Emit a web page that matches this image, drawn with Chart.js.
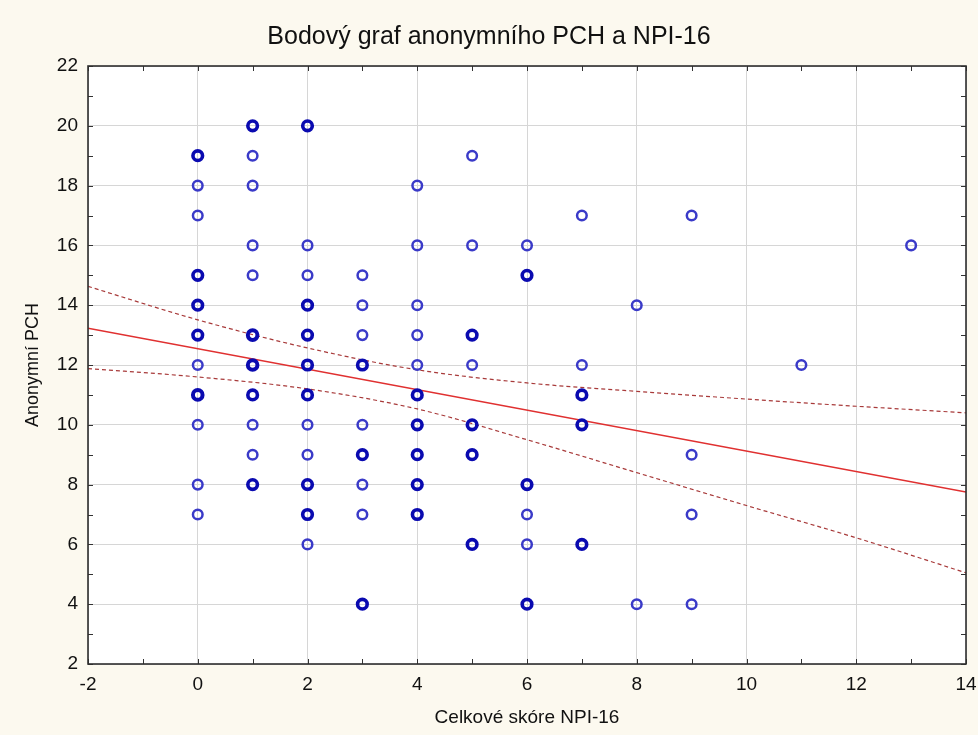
<!DOCTYPE html>
<html>
<head>
<meta charset="utf-8">
<script src="https://cdn.jsdelivr.net/npm/chart.js@4.4.1/dist/chart.umd.min.js"></script>
<style>
  html, body { margin: 0; padding: 0; background: #fcf9ef; }
  #wrap { width: 978px; height: 735px; }
</style>
</head>
<body>
<div id="wrap"><canvas id="c" width="978" height="735"></canvas></div>
<script>
// ---- data ----
// one entry per plotted circle: NPI-16 total score (x), anonymous PCH (y), overlap weight (1 = single, 2+ = overlapping cases)
const npiScores = [
  0,0,0,0,0,0,0,0,0,0,0,
  1,1,1,1,1,1,1,1,1,1,1,
  2,2,2,2,2,2,2,2,2,2,2,2,
  3,3,3,3,3,3,3,3,3,
  4,4,4,4,4,4,4,4,4,4,
  5,5,5,5,5,5,5,
  6,6,6,6,6,6,
  7,7,7,7,7,
  8,8,
  9,9,9,9,
  11,
  13
];
const pchScores = [
  19,18,17,15,14,13,12,11,10,8,7,
  20,19,18,16,15,13,12,11,10,9,8,
  20,16,15,14,13,12,11,10,9,8,7,6,
  15,14,13,12,10,9,8,7,4,
  18,16,14,13,12,11,10,9,8,7,
  19,16,13,12,10,9,6,
  16,15,8,7,6,4,
  17,12,11,10,6,
  14,4,
  17,9,7,4,
  12,
  16
];
const overlapCounts = [
  2,1,1,2,2,2,1,3,1,1,1,
  2,1,1,1,1,3,3,2,1,1,2,
  2,1,1,2,2,2,2,1,1,2,2,1,
  1,1,1,2,1,2,1,1,2,
  1,1,1,1,1,2,2,2,2,2,
  1,1,2,1,2,2,2,
  1,2,2,1,1,2,
  1,1,2,2,2,
  1,1,
  1,1,1,1,
  1,
  1
];
// regression line (endpoints read at the plot edges)
const fitX = [-2, 14];
const fitY = [13.23, 7.75];
// 95% confidence band, read at every 2 units
const bandX = [-2, 0, 2, 4, 6, 8, 10, 12, 14];
const bandUpper = [14.63, 13.51, 12.57, 11.84, 11.40, 11.12, 10.86, 10.62, 10.40];
const bandLower = [11.88, 11.60, 11.20, 10.53, 9.50, 8.40, 7.30, 6.22, 5.05];
// axis ticks
const xTicks = [-2, 0, 2, 4, 6, 8, 10, 12, 14];
const yTicks = [2, 4, 6, 8, 10, 12, 14, 16, 18, 20, 22];

const titleText = 'Bodový graf anonymního PCH a NPI-16';
const xTitle = 'Celkové skóre NPI-16';
const yTitle = 'Anonymní PCH';

const FONT = "'Liberation Sans', Arial, sans-serif";

const framePlugin = {
  id: 'frame',
  beforeDraw(chart) {
    const ctx = chart.ctx, a = chart.chartArea;
    ctx.save();
    ctx.fillStyle = '#fcf9ef';
    ctx.fillRect(0, 0, chart.width, chart.height);
    ctx.fillStyle = '#ffffff';
    ctx.fillRect(a.left, a.top, a.right - a.left, a.bottom - a.top);
    ctx.restore();
  },
  afterDraw(chart) {
    const ctx = chart.ctx, a = chart.chartArea;
    const xs = chart.scales.x, ys = chart.scales.y;
    ctx.save();
    ctx.strokeStyle = '#333333';
    ctx.lineWidth = 1;
    const len = 5;
    for (let v = Math.ceil(xs.min); v <= xs.max; v++) {
      const p = Math.round(xs.getPixelForValue(v)) + 0.5;
      ctx.beginPath();
      ctx.moveTo(p, a.bottom); ctx.lineTo(p, a.bottom - len);
      ctx.moveTo(p, a.top); ctx.lineTo(p, a.top + len);
      ctx.stroke();
    }
    for (let v = Math.ceil(ys.min); v <= ys.max; v++) {
      const p = Math.round(ys.getPixelForValue(v)) + 0.5;
      ctx.beginPath();
      ctx.moveTo(a.left, p); ctx.lineTo(a.left + len, p);
      ctx.moveTo(a.right, p); ctx.lineTo(a.right - len, p);
      ctx.stroke();
    }
    ctx.lineWidth = 1.6;
    ctx.strokeStyle = '#2e2e2e';
    ctx.strokeRect(a.left, a.top, a.right - a.left, a.bottom - a.top);
    ctx.restore();
  }
};

new Chart(document.getElementById('c'), {
  type: 'scatter',
  data: {
    datasets: [
      {
        label: 'data',
        data: npiScores.map((x, i) => ({ x: x, y: pchScores[i] })),
        pointStyle: 'circle',
        pointRadius: 4.8,
        pointBackgroundColor: 'rgba(255,255,255,0)',
        pointBorderColor: (c) => overlapCounts[c.dataIndex] > 1 ? '#0a0ab0' : '#3a3ac8',
        pointBorderWidth: (c) => overlapCounts[c.dataIndex] > 2 ? 4 : (overlapCounts[c.dataIndex] > 1 ? 3.6 : 2.5),
        showLine: false
      },
      {
        label: 'fit',
        data: fitX.map((x, i) => ({ x: x, y: fitY[i] })),
        showLine: true,
        borderColor: '#e03030',
        borderWidth: 1.5,
        pointRadius: 0
      },
      {
        label: 'upper',
        data: bandX.map((x, i) => ({ x: x, y: bandUpper[i] })),
        showLine: true,
        borderColor: '#a83a3a',
        borderWidth: 1.2,
        borderDash: [4, 3],
        cubicInterpolationMode: 'monotone',
        pointRadius: 0
      },
      {
        label: 'lower',
        data: bandX.map((x, i) => ({ x: x, y: bandLower[i] })),
        showLine: true,
        borderColor: '#a83a3a',
        borderWidth: 1.2,
        borderDash: [4, 3],
        cubicInterpolationMode: 'monotone',
        pointRadius: 0
      }
    ]
  },
  options: {
    responsive: false,
    animation: false,
    layout: { padding: { top: 0, right: 12, bottom: 0, left: 12 } },
    plugins: {
      legend: { display: false },
      tooltip: { enabled: false },
      title: {
        display: true,
        text: titleText,
        color: '#111111',
        font: { family: FONT, size: 25, weight: 'normal', lineHeight: 1.2 },
        padding: { top: 22, bottom: 14 }
      }
    },
    scales: {
      x: {
        type: 'linear',
        min: -2, max: 14,
        afterBuildTicks: (s) => { s.ticks = xTicks.map(v => ({ value: v })); },
        afterFit: (s) => { s.height = 71; s.paddingLeft = 0; s.paddingRight = 0; },
        grid: { color: '#d6d6d6', lineWidth: 1, drawTicks: false },
        border: { display: false },
        ticks: { color: '#111111', padding: 9, font: { family: FONT, size: 19, lineHeight: 1.2 }, maxRotation: 0 },
        title: {
          display: true, text: xTitle, color: '#111111',
          font: { family: FONT, size: 19, lineHeight: 1.2 },
          padding: { top: 0, bottom: 6 }
        }
      },
      y: {
        type: 'linear',
        min: 2, max: 22,
        afterBuildTicks: (s) => { s.ticks = yTicks.map(v => ({ value: v })); },
        afterFit: (s) => { s.width = 76; s.paddingTop = 0; s.paddingBottom = 0; },
        grid: { color: '#d6d6d6', lineWidth: 1, drawTicks: false },
        border: { display: false },
        ticks: { color: '#111111', padding: 10, font: { family: FONT, size: 19, lineHeight: 1.2 } },
        title: {
          display: true, text: yTitle, color: '#111111',
          font: { family: FONT, size: 18, lineHeight: 1.2 },
          padding: { top: 10, bottom: 0 }
        }
      }
    }
  },
  plugins: [framePlugin]
});
</script>
</body>
</html>
